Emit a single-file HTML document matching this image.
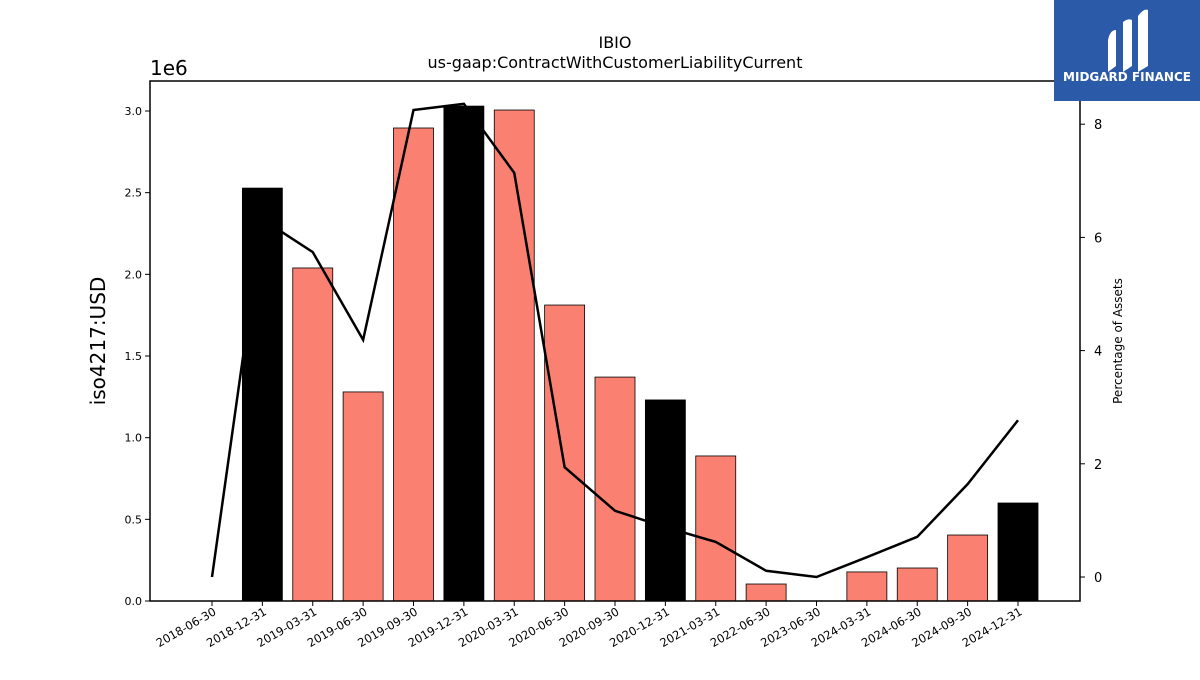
<!DOCTYPE html>
<html><head><meta charset="utf-8"><style>
body{margin:0;background:#fff;font-family:"Liberation Sans","DejaVu Sans",sans-serif}
svg text{font-family:"DejaVu Sans","Liberation Sans",sans-serif}
</style></head><body>
<svg id="c" width="1200" height="675" xmlns="http://www.w3.org/2000/svg">
<text x="615" y="48" font-size="16" text-anchor="middle">IBIO</text>
<text x="615" y="68" font-size="16" text-anchor="middle">us-gaap:ContractWithCustomerLiabilityCurrent</text>
<text x="150" y="75" font-size="20">1e6</text>
<text transform="translate(105,341) rotate(-90)" font-size="20" text-anchor="middle">iso4217:USD</text>
<text transform="translate(1122,341) rotate(-90)" font-size="12" text-anchor="middle">Percentage of Assets</text>
<g id="bars"></g><g id="line"></g><g id="axes"></g>
<rect x="150" y="81" width="930" height="520" fill="none" stroke="#000" stroke-width="1.5"/>
<g>
<rect x="1054" y="0" width="146" height="101" fill="#2b5aa8"/>
<path d="M1108 40 Q1110 30 1116 30 L1116 66 L1108 72 Z" fill="#fff"/>
<path d="M1123 22 Q1128 18 1132 20 L1132 66 L1123 72 Z" fill="#fff"/>
<path d="M1138 16 Q1144 8 1148 10 L1148 66 L1138 72 Z" fill="#fff"/>
<text x="1127" y="81" font-size="12" font-weight="bold" fill="#fff" text-anchor="middle">MIDGARD FINANCE</text>
</g>
</svg>
<script>
const categories=["2018-06-30","2018-12-31","2019-03-31","2019-06-30","2019-09-30","2019-12-31","2020-03-31","2020-06-30","2020-09-30","2020-12-31","2021-03-31","2022-06-30","2023-06-30","2024-03-31","2024-06-30","2024-09-30","2024-12-31"];
const barValues=[0,2.528e6,2.039e6,1.28e6,2.896e6,3.03e6,3.006e6,1.812e6,1.371e6,1.231e6,0.888e6,0.104e6,0,0.178e6,0.202e6,0.404e6,0.6e6];
const pctValues=[0,6.32,5.74,4.19,8.25,8.36,7.14,1.94,1.17,0.88,0.62,0.11,0,0.35,0.71,1.64,2.77];
const yTicks=[0,0.5,1.0,1.5,2.0,2.5,3.0];
const y2Ticks=[0,2,4,6,8];
const NS="http://www.w3.org/2000/svg";
const xs=i=>212+i*50.375;
const y=v=>601-v/1e6*163.33;
const y2=v=>577-v*56.6;
function mk(t,a,p){const e=document.createElementNS(NS,t);for(const k in a)e.setAttribute(k,a[k]);p.appendChild(e);return e;}
const bars=document.getElementById('bars'),line=document.getElementById('line'),axes=document.getElementById('axes');
categories.forEach((c,i)=>{
 if(barValues[i]>0){
  const r=mk('rect',{x:xs(i)-20,y:y(barValues[i]),width:40,height:601-y(barValues[i]),fill:c.endsWith('12-31')?'#000':'#fa8072',stroke:'#000','stroke-width':0.8},bars);
  
  
 }
 mk('line',{x1:xs(i),x2:xs(i),y1:601,y2:606,stroke:'#000'},axes);
 const t=mk('text',{transform:`translate(${xs(i)+5},${614}) rotate(-30)`,'font-size':11.5,'text-anchor':'end'},axes);
 t.textContent=c;
 
 
});
const pl=mk('polyline',{points:pctValues.map((v,i)=>xs(i)+','+y2(v)).join(' '),fill:'none',stroke:'#000','stroke-width':2.5},line);


yTicks.forEach(v=>{
 mk('line',{x1:145,x2:150,y1:y(v*1e6),y2:y(v*1e6),stroke:'#000'},axes);
 const t=mk('text',{x:142,y:y(v*1e6)+4,'font-size':11,'text-anchor':'end'},axes);
 t.textContent=v.toFixed(1);
 
 
});
y2Ticks.forEach(v=>{
 mk('line',{x1:1080,x2:1085,y1:y2(v),y2:y2(v),stroke:'#000'},axes);
 const t=mk('text',{x:1094,y:y2(v)+5,'font-size':13},axes);
 t.textContent=v;
 
 
});
</script>
</body></html>
